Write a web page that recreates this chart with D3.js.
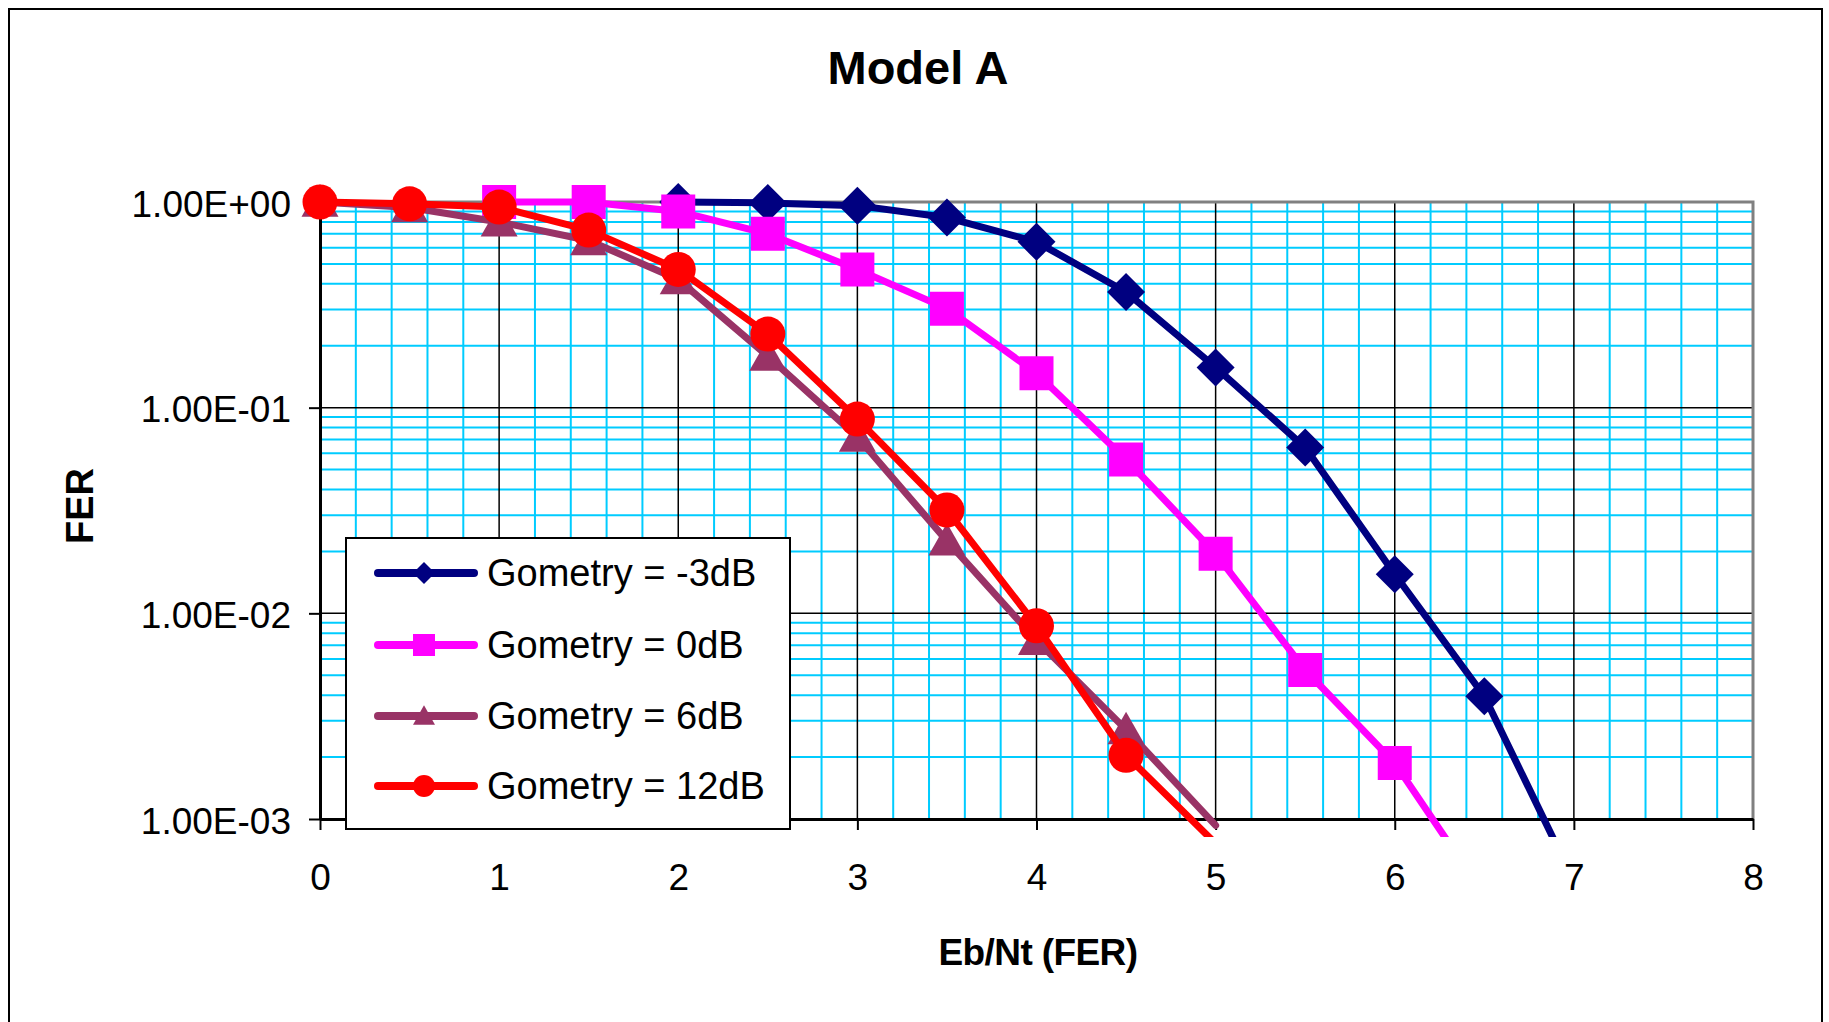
<!DOCTYPE html>
<html>
<head>
<meta charset="utf-8">
<script src="https://cdn.jsdelivr.net/npm/d3@7"></script>
<style>
  body { margin: 0; background: #fff; }
  text { font-family: "Liberation Sans", Arial, sans-serif; }
</style>
</head>
<body>
<script>
  // Eb/Nt points (dB)
  const ebnt = [0, 0.5, 1, 1.5, 2, 2.5, 3, 3.5, 4, 4.5, 5, 5.5, 6, 6.5, 7];

  // FER per geometry, null = no point
  const ferM3  = [null, null, null, null, 1.0, 0.99, 0.96, 0.84, 0.64, 0.365, 0.157, 0.064, 0.0155, 0.00395, 0.0005];
  const fer0   = [null, null, 1.0, 1.0, 0.90, 0.70, 0.47, 0.303, 0.147, 0.056, 0.0195, 0.0053, 0.00187, 0.000425, null];
  const fer6   = [1.0, 0.94, 0.80, 0.65, 0.42, 0.178, 0.072, 0.0225, 0.0074, 0.00272, 0.00093, null, null, null, null];
  const fer12  = [1.0, 0.98, 0.945, 0.73, 0.47, 0.228, 0.088, 0.0318, 0.0087, 0.00204, 0.00076, null, null, null, null];

  const seriesNames = ["Gometry = -3dB", "Gometry = 0dB", "Gometry = 6dB", "Gometry = 12dB"];
  const seriesColors = ["#000080", "#FF00FF", "#993366", "#FF0000"];
  const seriesShapes = ["diamond", "square", "triangle", "circle"];
  const seriesValues = [ferM3, fer0, fer6, fer12];

  const xTicks = [0, 1, 2, 3, 4, 5, 6, 7, 8];
  const yTicks = [1, 0.1, 0.01, 0.001];

  const W = 1829, H = 1022;
  const pL = 320, pR = 1753, pT = 202, pB = 819;

  const x = d3.scaleLinear().domain([0, 8]).range([pL, pR]);
  const y = d3.scaleLog().domain([0.001, 1]).range([pB, pT]);

  const svg = d3.select("body").append("svg")
    .attr("width", W).attr("height", H);

  svg.append("rect").attr("width", W).attr("height", H).attr("fill", "#fff");

  // outer chart frame
  svg.append("rect")
    .attr("x", 9).attr("y", 9).attr("width", 1813).attr("height", 1100)
    .attr("fill", "none").attr("stroke", "#000").attr("stroke-width", 2);

  // title
  svg.append("text")
    .attr("x", 918).attr("y", 84)
    .attr("text-anchor", "middle")
    .attr("font-size", 47).attr("font-weight", "bold")
    .text("Model A");

  // minor grid (cyan)
  const grid = svg.append("g");
  const minorX = d3.range(1, 40).map(i => i * 0.2).filter(v => Math.abs(v - Math.round(v)) > 1e-6);
  grid.selectAll(".mx").data(minorX).enter().append("line")
    .attr("x1", d => x(d)).attr("x2", d => x(d))
    .attr("y1", pT).attr("y2", pB)
    .attr("stroke", "#00CCFF").attr("stroke-width", 2);

  const minorY = [];
  [0.001, 0.01, 0.1].forEach(b => { for (let k = 2; k <= 9; k++) minorY.push(b * k); });
  grid.selectAll(".my").data(minorY).enter().append("line")
    .attr("x1", pL).attr("x2", pR)
    .attr("y1", d => y(d)).attr("y2", d => y(d))
    .attr("stroke", "#00CCFF").attr("stroke-width", 2);

  // major grid (black)
  grid.selectAll(".Mx").data(xTicks.slice(1, 8)).enter().append("line")
    .attr("x1", d => x(d)).attr("x2", d => x(d))
    .attr("y1", pT).attr("y2", pB)
    .attr("stroke", "#000").attr("stroke-width", 1.5);
  grid.selectAll(".My").data([0.1, 0.01]).enter().append("line")
    .attr("x1", pL).attr("x2", pR)
    .attr("y1", d => y(d)).attr("y2", d => y(d))
    .attr("stroke", "#000").attr("stroke-width", 1.5);

  // plot border (grey top / right)
  svg.append("path")
    .attr("d", `M${pL},${pT}H${pR}V${pB}`)
    .attr("fill", "none").attr("stroke", "#808080").attr("stroke-width", 3);

  // axes
  const fmt = d => {
    const e = Math.round(Math.log10(d));
    const s = e < 0 ? "-" : "+";
    return "1.00E" + s + String(Math.abs(e)).padStart(2, "0");
  };

  const gy = svg.append("g").attr("transform", `translate(${pL},0)`)
    .call(d3.axisLeft(y).tickValues(yTicks).tickFormat(fmt).tickSize(11).tickSizeOuter(0).tickPadding(18));
  const gx = svg.append("g").attr("transform", `translate(0,${pB})`)
    .call(d3.axisBottom(x).tickValues(xTicks).tickFormat(d3.format("d")).tickSize(11).tickSizeOuter(0).tickPadding(34));

  [gx, gy].forEach(g => {
    g.select(".domain").attr("stroke", "#000").attr("stroke-width", 3);
    g.selectAll(".tick line").attr("stroke", "#000").attr("stroke-width", 2);
    g.selectAll(".tick text").attr("fill", "#000").attr("font-size", 37)
      .attr("font-family", "'Liberation Sans', Arial, sans-serif");
  });
  gy.selectAll(".tick text").attr("dy", "0.38em");

  // axis titles
  svg.append("text")
    .attr("transform", "translate(93,506) rotate(-90)")
    .attr("text-anchor", "middle")
    .attr("font-size", 38).attr("font-weight", "bold")
    .text("FER");
  svg.append("text")
    .attr("x", 1038).attr("y", 965)
    .attr("text-anchor", "middle")
    .attr("font-size", 37).attr("font-weight", "bold")
    .attr("letter-spacing", -0.6)
    .text("Eb/Nt (FER)");

  // marker paths
  function marker(shape, s) {
    const h = s / 2;
    if (shape === "diamond") return `M0,${-h}L${h},0L0,${h}L${-h},0Z`;
    if (shape === "square") return `M${-h},${-h}H${h}V${h}H${-h}Z`;
    if (shape === "triangle") {
      const th = s * 0.88;
      return `M0,${-th * 0.55}L${h},${th * 0.45}L${-h},${th * 0.45}Z`;
    }
    return d3.symbol(d3.symbolCircle, Math.PI * h * h)();
  }

  svg.append("clipPath").attr("id", "clip")
    .append("rect").attr("x", 280).attr("y", 150).attr("width", 1480).attr("height", 687);

  const line = d3.line()
    .defined(d => d[1] != null)
    .x(d => x(d[0])).y(d => y(d[1]));

  const plot = svg.append("g");
  const markerSizes = [38, 34, 37, 35];

  seriesValues.forEach((vals, i) => {
    const pts = ebnt.map((e, j) => [e, vals[j]]);
    const g = plot.append("g");
    g.append("path")
      .attr("clip-path", "url(#clip)")
      .attr("d", line(pts))
      .attr("fill", "none")
      .attr("stroke", seriesColors[i]).attr("stroke-width", 7)
      .attr("stroke-linejoin", "round").attr("stroke-linecap", "round");
    g.selectAll("path.m")
      .data(pts.filter(p => p[1] != null && p[1] >= 0.001))
      .enter().append("path")
      .attr("class", "m")
      .attr("transform", p => `translate(${x(p[0])},${y(p[1])})`)
      .attr("d", marker(seriesShapes[i], markerSizes[i]))
      .attr("fill", seriesColors[i]);
  });

  // legend
  const lg = svg.append("g");
  lg.append("rect")
    .attr("x", 346).attr("y", 538).attr("width", 444).attr("height", 291)
    .attr("fill", "#fff").attr("stroke", "#000").attr("stroke-width", 2);
  const legendY = [573, 645, 716, 786];
  seriesNames.forEach((name, i) => {
    const row = lg.append("g").attr("transform", `translate(0,${legendY[i]})`);
    row.append("line")
      .attr("x1", 378).attr("x2", 474)
      .attr("stroke", seriesColors[i]).attr("stroke-width", 8)
      .attr("stroke-linecap", "round");
    row.append("path")
      .attr("transform", "translate(424,0)")
      .attr("d", marker(seriesShapes[i], 22))
      .attr("fill", seriesColors[i]);
    row.append("text")
      .attr("x", 487).attr("y", 13)
      .attr("font-size", 38)
      .text(name);
  });
</script>
</body>
</html>
